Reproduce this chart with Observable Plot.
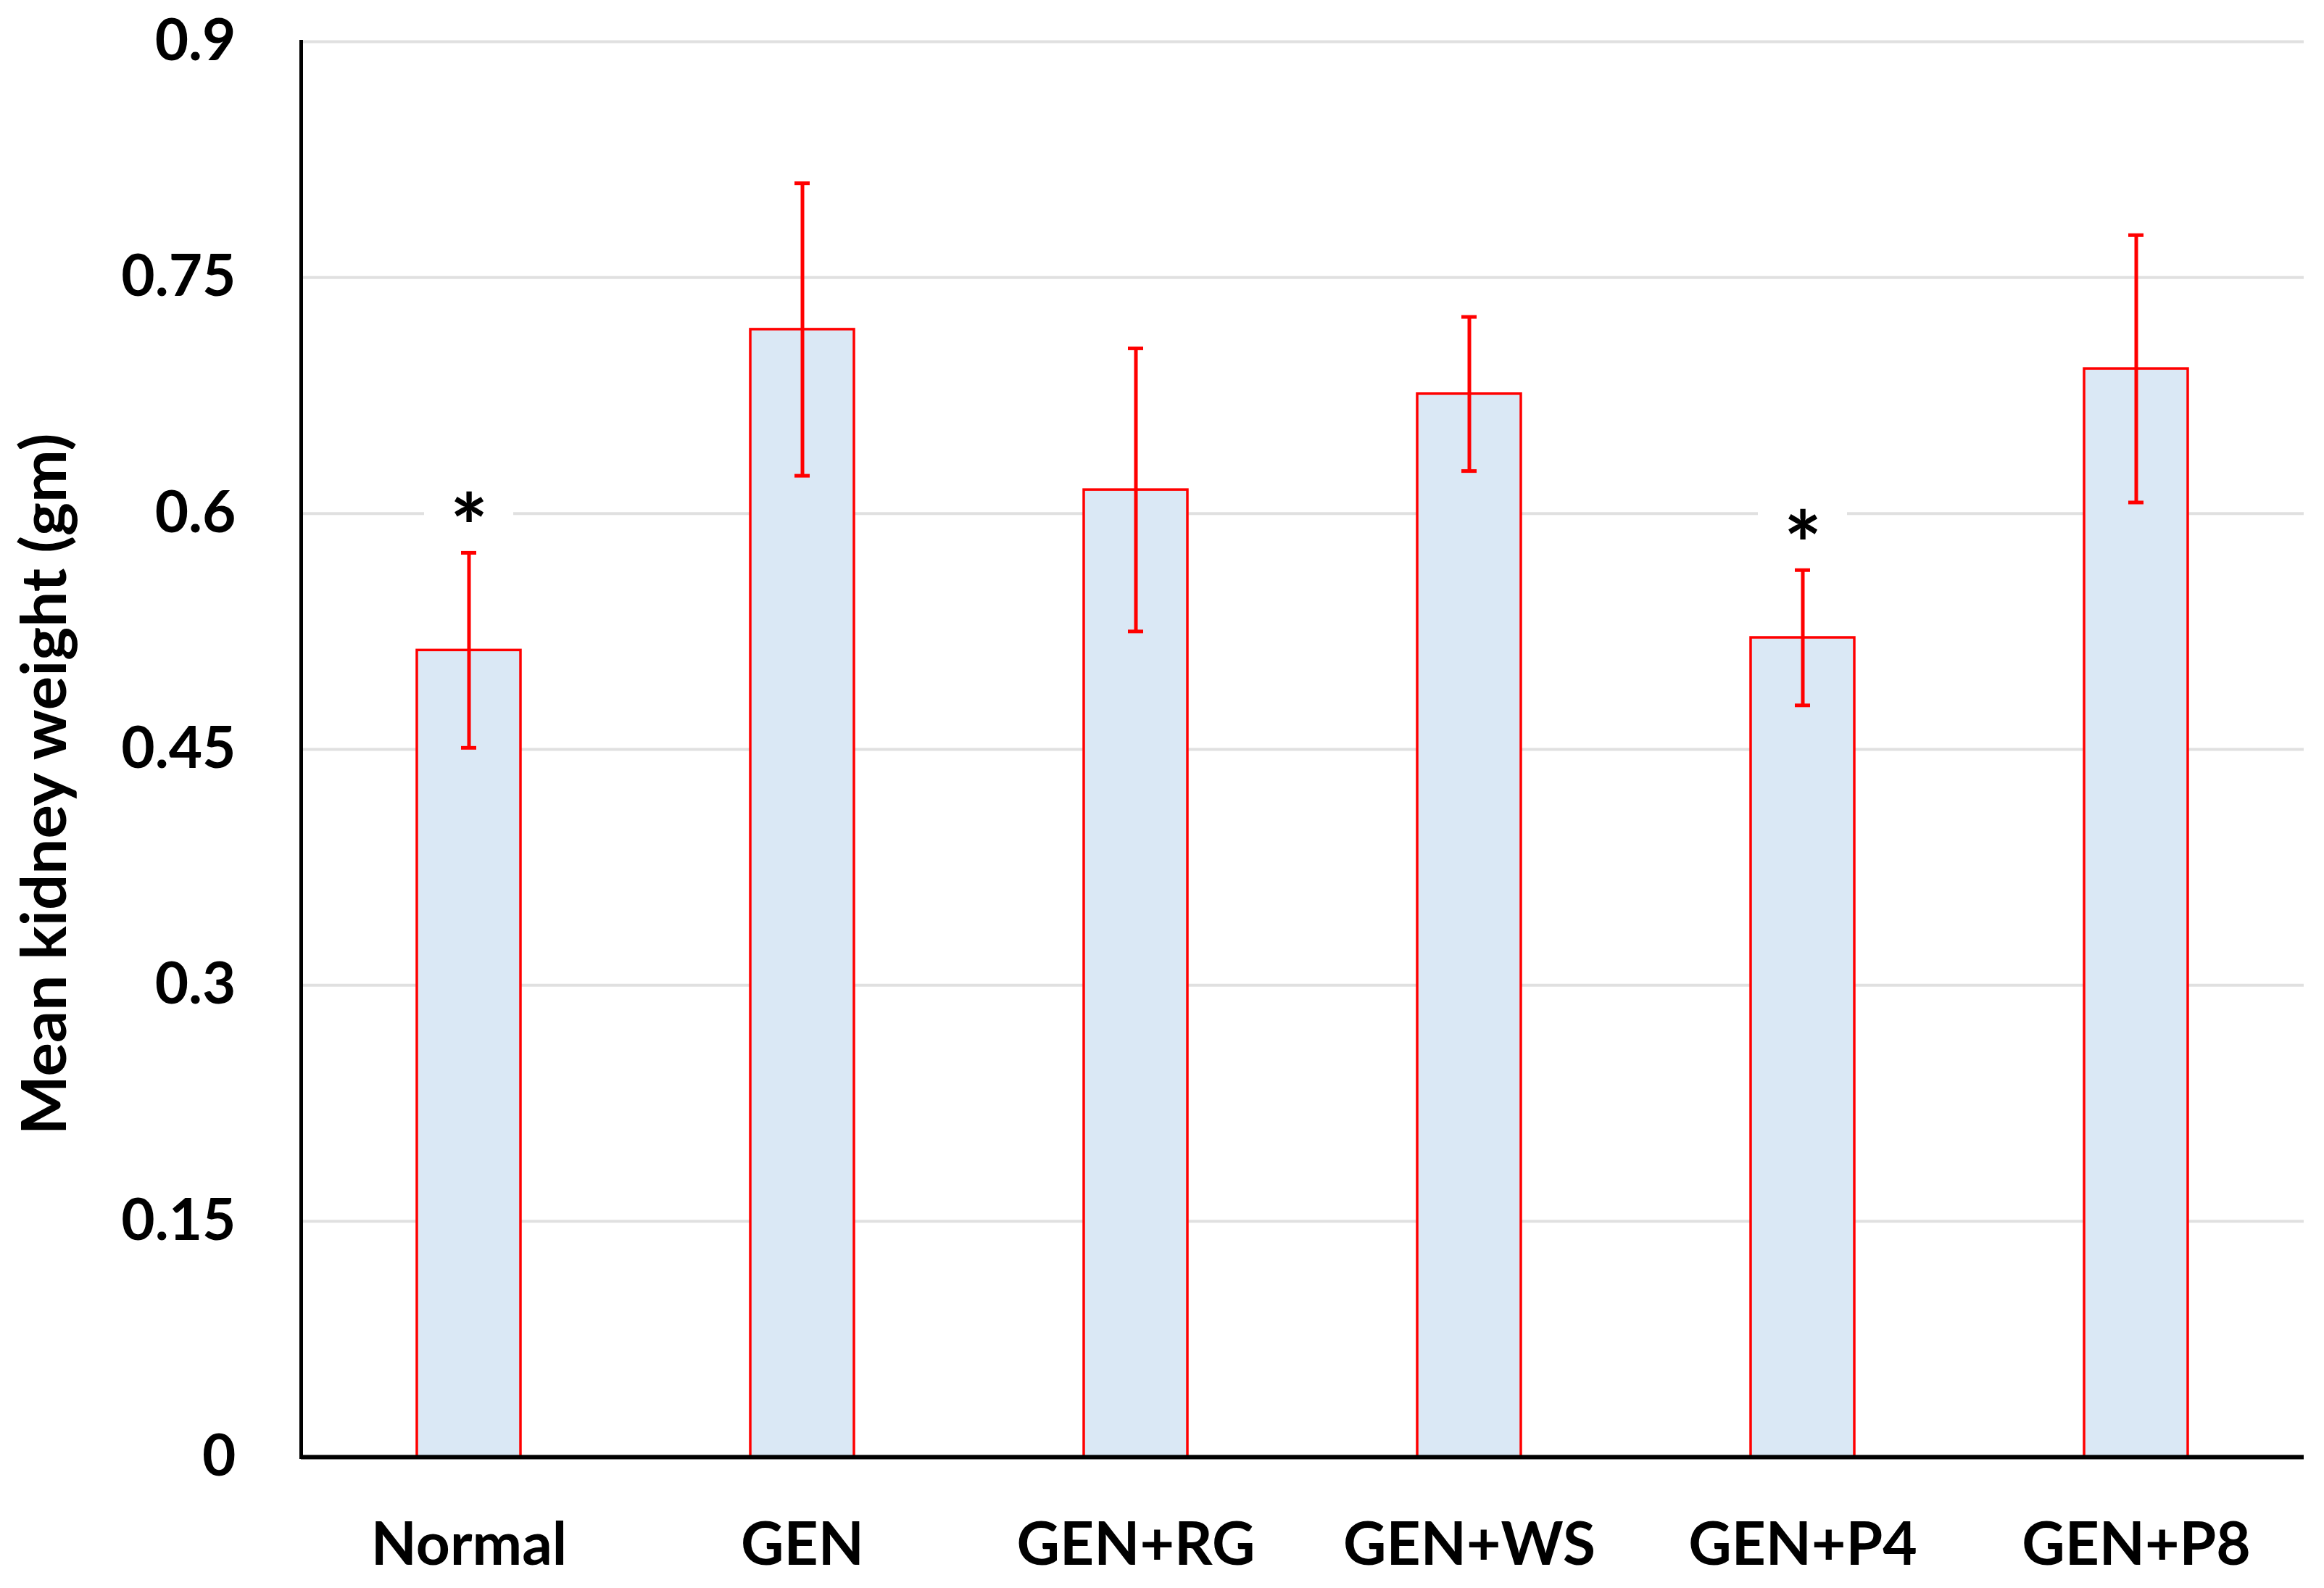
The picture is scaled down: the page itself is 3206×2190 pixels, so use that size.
<!DOCTYPE html>
<html><head><meta charset="utf-8">
<script src="https://cdn.jsdelivr.net/npm/d3@7"></script>
<script src="https://cdn.jsdelivr.net/npm/@observablehq/plot@0.6"></script>
<style>body{margin:0;background:#fff}</style>
</head><body><div id="chart"></div>
<script>
const groups = ["Normal", "GEN", "GEN+RG", "GEN+WS", "GEN+P4", "GEN+P8"];
const means = [0.513, 0.717, 0.615, 0.676, 0.521, 0.692];
const errors = [0.062, 0.093, 0.090, 0.049, 0.043, 0.085];
const markers = ["*", "", "", "", "*", ""];
const yTicks = [0, 0.15, 0.3, 0.45, 0.6, 0.75, 0.9];
const yTickLabels = ["0", "0.15", "0.3", "0.45", "0.6", "0.75", "0.9"];
const yLabel = "Mean kidney weight (gm)";

const data = groups.map((g, i) => ({group: g, mean: means[i], lo: means[i] - errors[i], hi: means[i] + errors[i], marker: markers[i]}));
const stars = data.filter(d => d.marker !== "");

const chart = Plot.plot({
  width: 3206, height: 2190,
  marginLeft: 415, marginRight: 28, marginTop: 57, marginBottom: 181,
  style: {fontFamily: "Lato", fontWeight: "bold", color: "black", background: "white"},
  x: {domain: groups, paddingInner: 0.689, paddingOuter: 0.3445, axis: null},
  y: {domain: [0, 0.9], axis: null},
  marks: [
    Plot.ruleY(yTicks, {stroke: "#e0e0e0", strokeWidth: 4}),
    Plot.tickY(stars, {x: "group", y: "hi", dy: -50, stroke: "white", strokeWidth: 84, insetLeft: 10, insetRight: 10}),
    Plot.barY(data, {x: "group", y: "mean", fill: "#dae8f5", stroke: "red", strokeWidth: 3.5}),
    Plot.ruleX(data, {x: "group", y1: "lo", y2: "hi", stroke: "red", strokeWidth: 5}),
    Plot.tickY(data, {x: "group", y: "hi", stroke: "red", strokeWidth: 5, insetLeft: 61, insetRight: 61}),
    Plot.tickY(data, {x: "group", y: "lo", stroke: "red", strokeWidth: 5, insetLeft: 61, insetRight: 61}),
    Plot.frame({anchor: "left", stroke: "black", strokeWidth: 5}),
    Plot.ruleY([0], {stroke: "black", strokeWidth: 6}),
    Plot.text(stars, {x: "group", y: "hi", text: "marker", fontSize: 124, fontWeight: "bold", lineAnchor: "bottom", dy: 10}),
    Plot.axisY({ticks: yTicks, tickFormat: d => yTickLabels[yTicks.indexOf(d)], tickSize: 0, tickPadding: 90, fontSize: 80, fontWeight: "bold", label: null}),
    Plot.axisX({tickSize: 0, tickPadding: 90, fontSize: 82, fontWeight: "bold", label: null}),
    Plot.text([yLabel], {text: d => d, frameAnchor: "left", textAnchor: "middle", rotate: -90, dx: -352, dy: 48, fontSize: 87, fontWeight: "bold"})
  ]
});
document.getElementById("chart").appendChild(chart);
</script>
</body></html>
